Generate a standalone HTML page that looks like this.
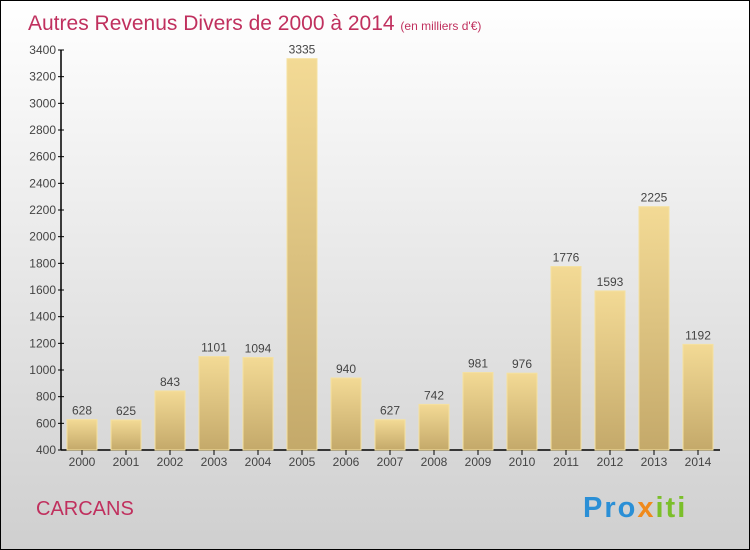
<!DOCTYPE html>
<html><head><meta charset="utf-8"><style>
body{margin:0}
#wrap{position:relative;width:750px;height:550px;box-sizing:border-box;border:1px solid #000;background:linear-gradient(#ffffff,#cfcfcf);font-family:"Liberation Sans",sans-serif;overflow:hidden}
</style></head><body>
<div id="wrap">
<svg id="chart" width="750" height="550" style="position:absolute;left:-1px;top:-1px">
<defs><linearGradient id="bg" x1="0" y1="0" x2="0" y2="1"><stop offset="0" stop-color="#f3da95"/><stop offset="1" stop-color="#c4a96a"/></linearGradient></defs>
<text x="28" y="30" font-size="21" fill="#c0305e">Autres Revenus Divers de 2000 à 2014 <tspan font-size="12">(en milliers d'€)</tspan></text>
<text x="36" y="515" font-size="20" fill="#c0305e">CARCANS</text>
<text x="583" y="517" font-size="29" font-weight="bold" letter-spacing="2"><tspan fill="#2a8fd6">Pro</tspan><tspan fill="#f08a1c">x</tspan><tspan fill="#7bbf2a">iti</tspan></text>
</svg>
</div>
<script>
const years=["2000","2001","2002","2003","2004","2005","2006","2007","2008","2009","2010","2011","2012","2013","2014"];
const values=[628,625,843,1101,1094,3335,940,627,742,981,976,1776,1593,2225,1192];
const yTicks=[400,600,800,1000,1200,1400,1600,1800,2000,2200,2400,2600,2800,3000,3200,3400];
const svg=document.getElementById('chart');
const NS='http://www.w3.org/2000/svg';
const y=v=>450-(v-400)*400/3000;
const x=i=>82+44*i;
function mk(t,a){const e=document.createElementNS(NS,t);for(const k in a)e.setAttribute(k,a[k]);svg.appendChild(e);return e;}
let ax=mk('line',{x1:61,y1:50,x2:61,y2:450,stroke:'#000','stroke-width':1.5});


let bx=mk('line',{x1:61,y1:450,x2:720,y2:450,stroke:'#000','stroke-width':1.5});


yTicks.forEach(v=>{
 mk('line',{x1:58,x2:64,y1:y(v),y2:y(v),stroke:'#000'});
 const t=mk('text',{x:56,y:y(v)+4,'font-size':12,'text-anchor':'end',fill:'#444'});t.textContent=v;
 
 
});
years.forEach((yr,i)=>{
 const v=values[i];
 const r=mk('rect',{x:x(i)-15,y:y(v),width:30,height:450-y(v),fill:'url(#bg)',stroke:'#f5e1a0','stroke-width':1});
 
 
 const l=mk('text',{x:x(i),y:y(v)-5,'font-size':12,'text-anchor':'middle',fill:'#444'});l.textContent=v;
 
 
 mk('line',{x1:x(i),x2:x(i),y1:450,y2:455,stroke:'#000'});
 const t=mk('text',{x:x(i),y:466,'font-size':12,'text-anchor':'middle',fill:'#444'});t.textContent=yr;
 
 
});
</script>
</body></html>
